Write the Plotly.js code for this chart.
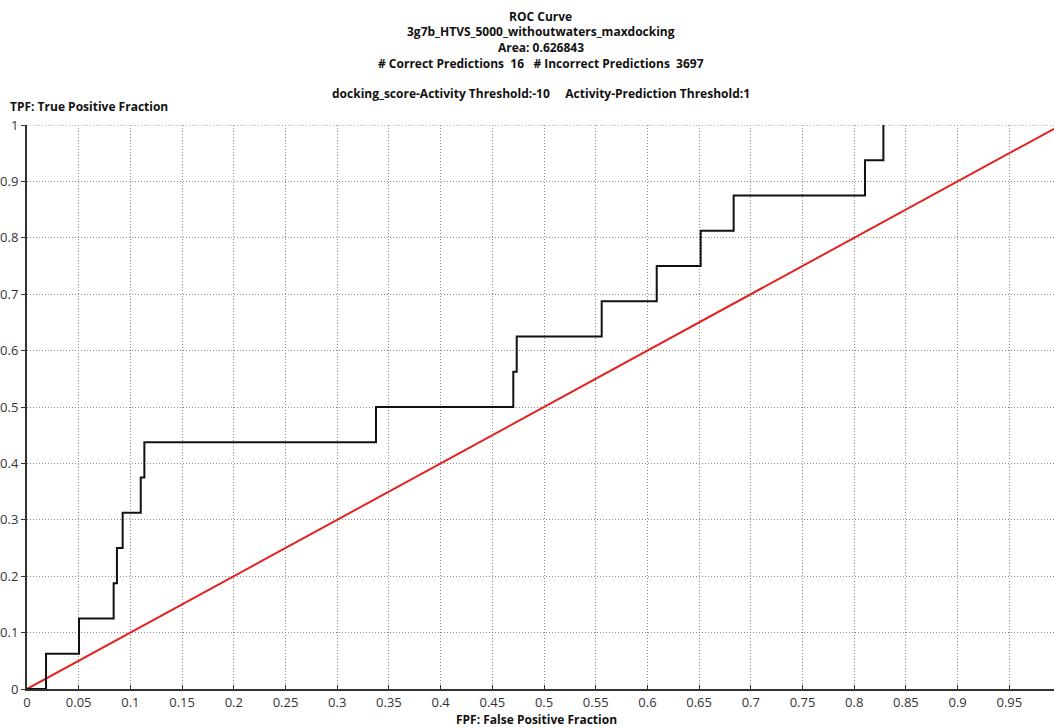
<!DOCTYPE html>
<html>
<head>
<meta charset="utf-8">
<script src="https://cdn.plot.ly/plotly-3.0.1.min.js"></script>
<style>
html,body{margin:0;padding:0;background:#fff;}
#chart{width:1054px;height:727px;}
</style>
</head>
<body>
<div id="chart"></div>
<script>
// ROC step curve (False Positive Fraction, True Positive Fraction)
const rocFPF = [0, 0.0184, 0.0503, 0.0838, 0.0870, 0.0925, 0.1100, 0.1135, 0.3375, 0.4703, 0.4736, 0.5558, 0.6090, 0.6515, 0.6834, 0.8104, 0.8282];
const rocTPF = [0, 0.0625, 0.1250, 0.1875, 0.2500, 0.3125, 0.3750, 0.4375, 0.5000, 0.5625, 0.6250, 0.6875, 0.7500, 0.8125, 0.8750, 0.9375, 1.0000];
// random-classifier diagonal
const diagX = [0, 1];
const diagY = [0, 1];

const xTickVals = [0,0.05,0.1,0.15,0.2,0.25,0.3,0.35,0.4,0.45,0.5,0.55,0.6,0.65,0.7,0.75,0.8,0.85,0.9,0.95];
const xTickText = ["0","0.05","0.1","0.15","0.2","0.25","0.3","0.35","0.4","0.45","0.5","0.55","0.6","0.65","0.7","0.75","0.8","0.85","0.9","0.95"];
const yTickVals = [0,0.1,0.2,0.3,0.4,0.5,0.6,0.7,0.8,0.9,1];
const yTickText = ["0","0.1","0.2","0.3","0.4","0.5","0.6","0.7","0.8","0.9","1"];

const titleLines = [
  "ROC Curve",
  "3g7b_HTVS_5000_withoutwaters_maxdocking",
  "Area: 0.626843",
  "# Correct Predictions  16   # Incorrect Predictions  3697",
  "docking_score-Activity Threshold:-10     Activity-Prediction Threshold:1"
];
const titleY = [16, 32, 48, 64, 94];   // pixel rows of the title lines

const W = 1054, H = 727;
const M = {l: 27, r: 0, t: 125, b: 38};
const plotH = H - M.t - M.b;
const plotW = W - M.l - M.r;
const py = p => (H - M.b - p) / plotH;   // pixel row -> paper y
const px = p => (p - M.l) / plotW;       // pixel col -> paper x

const titleFont = {family: "Open Sans, DejaVu Sans, sans-serif", size: 12, color: "#111"};
const axTitleFont = {family: "Open Sans, DejaVu Sans, sans-serif", size: 12, color: "#111"};

const annotations = titleLines.map((t, i) => ({
  text: "<b>" + t + "</b>", xref: "paper", yref: "paper",
  x: 0.5, y: py(titleY[i]), xanchor: "center", yanchor: "middle",
  showarrow: false, font: titleFont
}));
annotations.push({
  text: "<b>TPF: True Positive Fraction</b>", xref: "paper", yref: "paper",
  x: px(8), y: py(106), xanchor: "left", yanchor: "middle",
  showarrow: false, font: axTitleFont
});
annotations.push({
  text: "<b>FPF: False Positive Fraction</b>", xref: "paper", yref: "paper",
  x: px(536), y: py(719), xanchor: "center", yanchor: "middle",
  showarrow: false, font: axTitleFont
});

const traces = [
  {x: diagX, y: diagY, mode: "lines", line: {color: "#e02422", width: 2}, hoverinfo: "skip"},
  {x: rocFPF, y: rocTPF, mode: "lines", line: {color: "#111", width: 2, shape: "hv"}, hoverinfo: "skip"}
];

const gridDash = "1px,2px";

const layout = {
  width: W, height: H,
  margin: M,
  paper_bgcolor: "#fff", plot_bgcolor: "#fff",
  showlegend: false,
  font: {family: "Open Sans, DejaVu Sans, sans-serif", size: 13, color: "#333"},
  xaxis: {
    range: [0, 0.9932], tickvals: xTickVals, ticktext: xTickText,
    showgrid: true, gridcolor: "#8a8a8a", griddash: gridDash, gridwidth: 1,
    showline: true, linecolor: "#333", linewidth: 2,
    ticks: "inside", ticklen: 4, tickcolor: "#333",
    zeroline: false, fixedrange: true,
    tickfont: {size: 13, color: "#333"}
  },
  yaxis: {
    range: [0, 1], tickvals: yTickVals, ticktext: yTickText,
    showgrid: true, gridcolor: "#8a8a8a", griddash: gridDash, gridwidth: 1,
    showline: true, linecolor: "#333", linewidth: 2,
    ticks: "outside", ticklen: 4, tickcolor: "#333",
    zeroline: false, fixedrange: true,
    tickfont: {size: 13, color: "#333"}
  },
  shapes: [
    {type: "line", xref: "paper", yref: "y", x0: 0, x1: 1, y0: 1, y1: 1,
     line: {color: "#777", width: 1, dash: gridDash}, layer: "below"}
  ],
  annotations: annotations
};

Plotly.newPlot("chart", traces, layout, {displayModeBar: false, staticPlot: true});
</script>
</body>
</html>
